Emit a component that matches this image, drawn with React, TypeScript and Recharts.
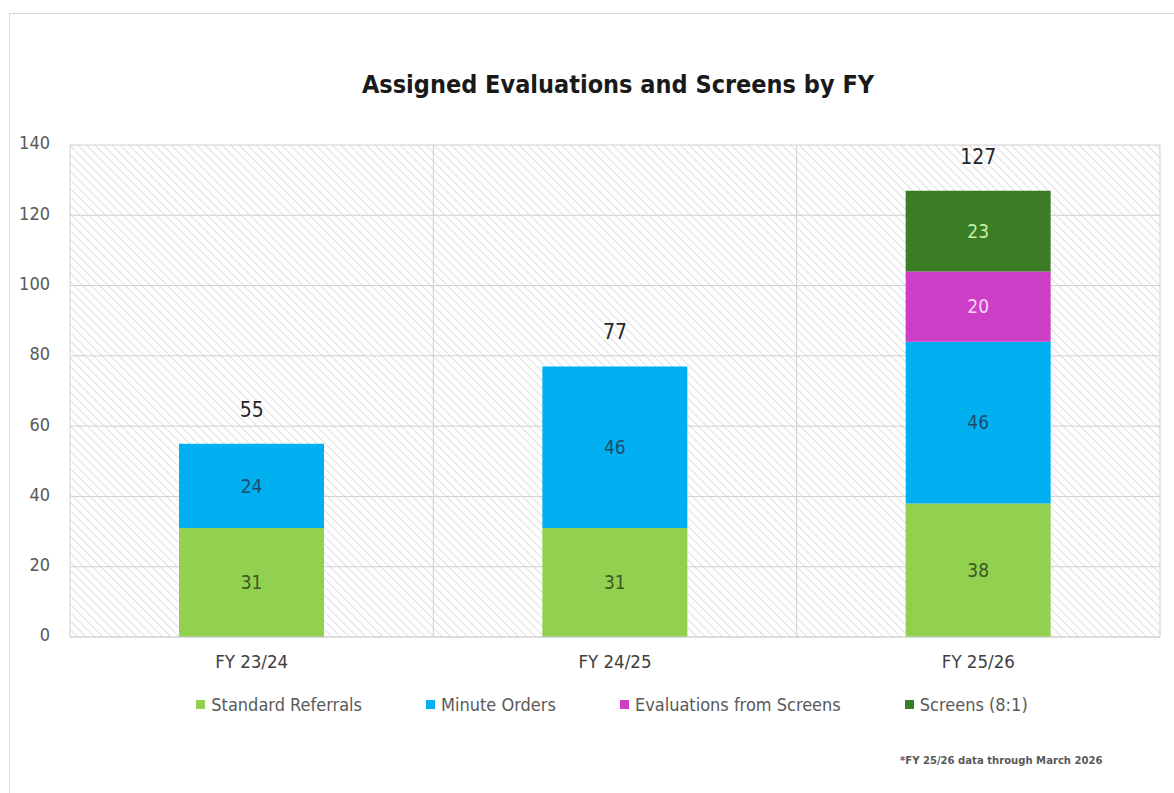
import React from "react";
import {
  ComposedChart,
  Bar,
  Line,
  XAxis,
  YAxis,
  CartesianGrid,
  LabelList,
} from "recharts";

const years = ["FY 23/24", "FY 24/25", "FY 25/26"];
const standardReferrals = [31, 31, 38];
const minuteOrders = [24, 46, 46];
const evalsFromScreens = [null, null, 20];
const screens = [null, null, 23];
const yTicks = [0, 20, 40, 60, 80, 100, 120, 140];

const series = [
  { key: "standard", name: "Standard Referrals", color: "#92d050", text: "#3b5a1f" },
  { key: "minute", name: "Minute Orders", color: "#00b0f0", text: "#1e4d6b" },
  { key: "evals", name: "Evaluations from Screens", color: "#cc3fc6", text: "#f7d4f3" },
  { key: "screens", name: "Screens (8:1)", color: "#3a7d25", text: "#c6f1a6" },
];

const data = years.map((fy, i) => ({
  fy,
  standard: standardReferrals[i],
  minute: minuteOrders[i],
  evals: evalsFromScreens[i],
  screens: screens[i],
  total:
    standardReferrals[i] +
    minuteOrders[i] +
    (evalsFromScreens[i] || 0) +
    (screens[i] || 0),
}));

const FONT = "'Liberation Sans Narrow', 'Arial Narrow', 'DejaVu Sans Condensed', sans-serif";

const LegendBox = () => (
  <div
    style={{
      position: "absolute",
      top: 694,
      left: 0,
      width: 1174,
      display: "flex",
      justifyContent: "center",
      gap: 64,
      fontFamily: FONT,
      fontSize: 18,
      color: "#595959",
      paddingLeft: 50,
      boxSizing: "border-box",
    }}
  >
    {series.map((s) => (
      <div key={s.key} style={{ display: "flex", alignItems: "center" }}>
        <span
          style={{ width: 9, height: 9, background: s.color, marginRight: 6, display: "inline-block" }}
        />
        {s.name}
      </div>
    ))}
  </div>
);

const App: React.FC = () => {
  // grid lines on band edges, not on the centres
  const bandEdges = ({ offset }: any) =>
    [0, 1, 2, 3].map((i) => offset.left + (offset.width * i) / years.length);

  return (
    <div
      style={{
        position: "absolute",
        left: 0,
        top: 0,
        width: 1174,
        height: 793,
        background: "#fff",
        fontFamily: FONT,
        overflow: "hidden",
      }}
    >
      <div
        style={{
          position: "absolute",
          left: 9,
          top: 13,
          right: -2,
          bottom: -2,
          borderTop: "1px solid #d9d9d9",
          borderLeft: "1px solid #d9d9d9",
        }}
      />
      <div
        style={{
          position: "absolute",
          top: 70,
          left: 0,
          width: 1236,
          textAlign: "center",
          fontSize: 25,
          fontWeight: "bold",
          color: "#1a1a1a",
        }}
      >
        Assigned Evaluations and Screens by FY
      </div>
      <div style={{ position: "absolute", top: 0, left: 0 }}>
        <ComposedChart
          width={1174}
          height={793}
          data={data}
          margin={{ top: 145, right: 14, bottom: 126, left: 0 }}
          barSize={145}
        >
          <defs>
            <pattern id="hatch" width="6" height="6" patternUnits="userSpaceOnUse" patternTransform="rotate(-45)">
              <line x1="0" y1="0" x2="0" y2="6" stroke="#c9c9c9" strokeWidth="1.2" />
            </pattern>
          </defs>
          <CartesianGrid
            fill="url(#hatch)"
            stroke="#d0d0d0"
            verticalCoordinatesGenerator={bandEdges}
          />
          <XAxis
            dataKey="fy"
            height={30}
            tickSize={0}
            tickMargin={18}
            axisLine={{ stroke: "#d0d0d0" }}
            tick={{ fill: "#404040", fontSize: 18.5, fontFamily: FONT }}
          />
          <YAxis
            domain={[0, 140]}
            ticks={yTicks}
            width={70}
            tickSize={0}
            tickMargin={20}
            axisLine={false}
            tick={{ fill: "#595959", fontSize: 18, fontFamily: FONT, dy: -2 }}
          />
          {series.map((s) => (
            <Bar
              key={s.key}
              dataKey={s.key}
              name={s.name}
              stackId="a"
              fill={s.color}
              isAnimationActive={false}
            >
              <LabelList
                dataKey={s.key}
                position="center"
                fill={s.text}
                fontSize={19}
                fontFamily={FONT}
              />
            </Bar>
          ))}
          <Line
            dataKey="total"
            stroke="none"
            dot={false}
            activeDot={false}
            legendType="none"
            isAnimationActive={false}
          >
            <LabelList dataKey="total" position="top" offset={27} fill="#262626" fontSize={21} fontFamily={FONT} />
          </Line>
        </ComposedChart>
      </div>
      <LegendBox />
      <div
        style={{
          position: "absolute",
          left: 900,
          top: 754,
          fontSize: 11.2,
          fontWeight: 600,
          fontFamily: "'DejaVu Sans Condensed', 'Open Sans', sans-serif",
          color: "#595959",
          whiteSpace: "nowrap",
        }}
      >
        *FY 25/26 data through March 2026
      </div>
    </div>
  );
};

export default App;
